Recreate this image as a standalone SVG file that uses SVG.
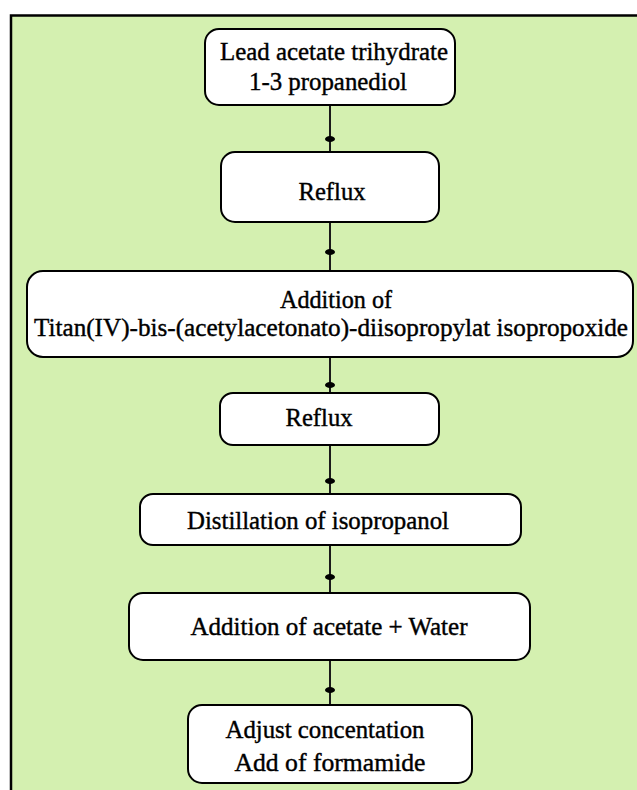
<svg xmlns="http://www.w3.org/2000/svg" width="637" height="790" viewBox="0 0 637 790">
<style>
.box{fill:#ffffff;stroke:#000000;stroke-width:2}
.lbl{font-family:'Liberation Serif','DejaVu Serif','Times New Roman',serif;font-size:25px;fill:#000;stroke:#000;stroke-width:0.4;text-anchor:middle}
.conn{fill:none;stroke:#1a1a1a;stroke-width:2}
</style>
<defs>
<marker id="dot" markerUnits="userSpaceOnUse" markerWidth="8" markerHeight="12" refX="4" refY="6" orient="auto-start-reverse" viewBox="0 0 8 12">
<ellipse cx="4" cy="6" rx="3" ry="5" fill="#000"/>
</marker>
</defs>
<rect width="637" height="790" fill="#ffffff"/>
<rect id="panel" x="11" y="15.5" width="640" height="800" fill="#d4f0b0" stroke="#000" stroke-width="2.5"/>
<g id="connectors">
<path class="conn" d="M330,105 L330,139 L330,152" marker-mid="url(#dot)"/>
<path class="conn" d="M330,222 L330,252 L330,271" marker-mid="url(#dot)"/>
<path class="conn" d="M330,357 L330,385 L330,393" marker-mid="url(#dot)"/>
<path class="conn" d="M330,445 L330,481 L330,494" marker-mid="url(#dot)"/>
<path class="conn" d="M330,545 L330,577 L330,593" marker-mid="url(#dot)"/>
<path class="conn" d="M330,660 L330,690 L330,705" marker-mid="url(#dot)"/>
</g>
<g id="n1">
<rect class="box" x="205" y="29" width="250" height="76" rx="14"/>
<text class="lbl" x="334" y="60" textLength="228" lengthAdjust="spacingAndGlyphs">Lead acetate trihydrate</text>
<text class="lbl" x="328" y="90" textLength="158" lengthAdjust="spacingAndGlyphs">1-3 propanediol</text>
</g>
<g id="n2">
<rect class="box" x="221" y="152" width="218" height="70" rx="14"/>
<text class="lbl" x="332" y="200" textLength="67" lengthAdjust="spacingAndGlyphs">Reflux</text>
</g>
<g id="n3">
<rect class="box" x="27" y="271" width="606" height="86" rx="16"/>
<text class="lbl" x="336" y="308" textLength="112" lengthAdjust="spacingAndGlyphs">Addition of</text>
<text class="lbl" x="331" y="336" textLength="594" lengthAdjust="spacingAndGlyphs">Titan(IV)-bis-(acetylacetonato)-diisopropylat isopropoxide</text>
</g>
<g id="n4">
<rect class="box" x="220" y="393" width="219" height="52" rx="13"/>
<text class="lbl" x="319" y="426" textLength="67" lengthAdjust="spacingAndGlyphs">Reflux</text>
</g>
<g id="n5">
<rect class="box" x="140" y="494" width="381" height="51" rx="13"/>
<text class="lbl" x="318" y="529" textLength="262" lengthAdjust="spacingAndGlyphs">Distillation of isopropanol</text>
</g>
<g id="n6">
<rect class="box" x="129" y="593" width="401" height="67" rx="14"/>
<text class="lbl" x="329" y="635" textLength="277" lengthAdjust="spacingAndGlyphs">Addition of acetate + Water</text>
</g>
<g id="n7">
<rect class="box" x="188" y="705" width="284" height="78" rx="14"/>
<text class="lbl" x="325" y="738" textLength="199" lengthAdjust="spacingAndGlyphs">Adjust concentation</text>
<text class="lbl" x="330" y="771" textLength="191" lengthAdjust="spacingAndGlyphs">Add of formamide</text>
</g>
</svg>
